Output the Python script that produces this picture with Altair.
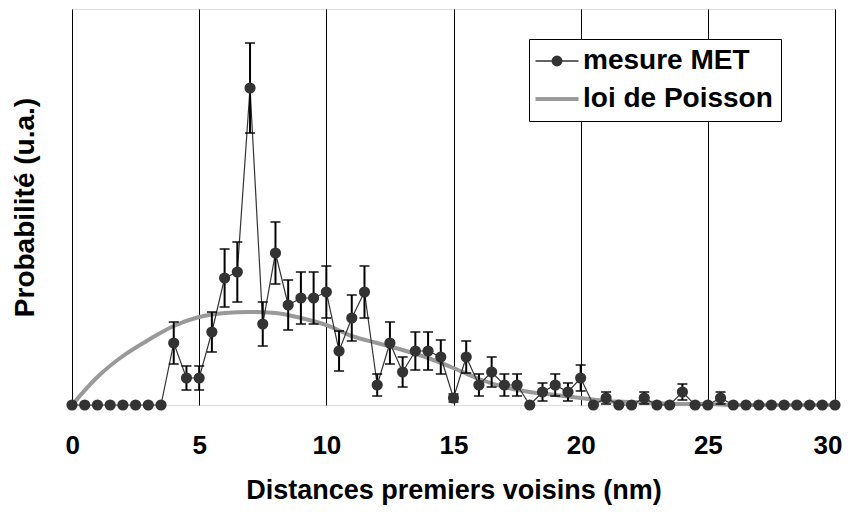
import altair as alt
import pandas as pd

# distances (nm) of the measured histogram
met_x = [0, 0.5, 1, 1.5, 2, 2.5, 3, 3.5, 4, 4.5, 5, 5.5, 6, 6.5, 7, 7.5, 8, 8.5, 9, 9.5,
         10, 10.5, 11, 11.5, 12, 12.5, 13, 13.5, 14, 14.5, 15, 15.5, 16, 16.5, 17, 17.5,
         18, 18.5, 19, 19.5, 20, 20.5, 21, 21.5, 22, 22.5, 23, 23.5, 24, 24.5, 25, 25.5,
         26, 26.5, 27, 27.5, 28, 28.5, 29, 29.5, 30]
# measured probability (arbitrary units)
met_y = [0, 0, 0, 0, 0, 0, 0, 0, 62, 27, 27, 73, 127, 133, 317, 81, 152, 100, 107, 107,
         113, 54, 87, 113, 20, 62, 33, 54, 54, 48, 7, 48, 20, 33, 20, 20,
         0, 13, 20, 13, 27, 0, 7, 0, 0, 7, 0, 0, 13, 0, 0, 7,
         0, 0, 0, 0, 0, 0, 0, 0, 0]
# error (half width)
met_err = [0, 0, 0, 0, 0, 0, 0, 0, 21, 12, 12, 20, 29, 30, 45, 22, 31, 25, 26, 26,
           26, 20, 23, 26, 11, 21, 15, 19, 19, 17, 4, 16, 11, 15, 11, 11,
           0, 9, 11, 9, 13, 0, 6, 0, 0, 6, 0, 0, 8, 0, 0, 6,
           0, 0, 0, 0, 0, 0, 0, 0, 0]

# Poisson law
poi_x = [0, 1, 2, 3, 4, 5, 6, 7, 8, 9, 10, 11, 12, 13, 14, 15, 16, 17, 18, 19, 20,
         21, 22, 23, 24, 25, 26, 27, 28, 29, 30]
poi_y = [0, 28, 49, 65, 79, 88, 92, 93, 92, 87, 80, 69, 62, 55, 47, 37, 26, 18, 13, 10, 7,
         4, 3, 2, 1, 1, 0, 0, 0, 0, 0]

series_names = ["mesure MET", "loi de Poisson"]
series_colors = ["#333333", "#999999"]
x_ticks = [0, 5, 10, 15, 20, 25, 30]

met = pd.DataFrame({"x": met_x, "y": met_y, "err": met_err, "series": series_names[0]})
met["lo"] = met["y"] - met["err"]
met["hi"] = met["y"] + met["err"]
err = met[met["err"] > 0]
poi = pd.DataFrame({"x": poi_x, "y": poi_y, "series": series_names[1]})

FONT = "Liberation Sans"

xenc = alt.X("x:Q",
             scale=alt.Scale(domain=[0, 30], nice=False, zero=True),
             axis=alt.Axis(values=x_ticks, title="Distances premiers voisins (nm)",
                           grid=True, gridColor="black", gridWidth=1, gridOpacity=1,
                           ticks=False, domain=False, labelPadding=27,
                           labelFlush=True, labelFlushOffset=7,
                           labelFont=FONT, labelFontSize=26, labelFontWeight="bold",
                           labelColor="black", titleFont=FONT, titleFontSize=27,
                           titleFontWeight="bold", titleColor="black", titlePadding=19))
yscale = alt.Scale(domain=[0, 396], nice=False)
yaxis = alt.Axis(title="Probabilité (u.a.)", labels=False, ticks=False, domain=False,
                 grid=False, titleFont=FONT, titleFontSize=28, titleFontWeight="bold",
                 titleColor="black", titlePadding=33)

shape_expr = ("datum.value === 'mesure MET' ? "
              "'M-1,0H1M-0.22,0A0.22,0.22,0,1,1,0.22,0A0.22,0.22,0,1,1,-0.22,0Z' : 'M-1,0H1'")
legend = alt.Legend(
    orient="none", legendX=457, legendY=30, title=None,
    fillColor="white", strokeColor="black", padding=8,
    labelFont=FONT, labelFontSize=28, labelFontWeight="bold", labelColor="black",
    labelLimit=400,
    symbolSize=1849, symbolOffset=6, labelOffset=12, rowPadding=10,
    symbolType=alt.ExprRef(shape_expr),
    symbolStrokeWidth=alt.ExprRef("datum.value === 'mesure MET' ? 1.5 : 4"),
    symbolFillColor=alt.ExprRef("datum.value === 'mesure MET' ? '#333333' : 'transparent'"),
    symbolStrokeColor=alt.ExprRef("datum.value === 'mesure MET' ? '#333333' : '#999999'"),
    symbolOpacity=1)
color = alt.Color("series:N", scale=alt.Scale(domain=series_names, range=series_colors),
                  legend=legend)

poisson_line = alt.Chart(poi).mark_line(strokeWidth=4, interpolate="monotone").encode(
    x=xenc, y=alt.Y("y:Q", scale=yscale, axis=yaxis), color=color)
met_line = alt.Chart(met).mark_line(strokeWidth=1.2).encode(
    x=xenc, y=alt.Y("y:Q", scale=yscale, axis=yaxis), color=color)
bars = alt.Chart(err).mark_errorbar(ticks=True, color="black", thickness=2, size=10).encode(
    x=xenc, y=alt.Y("lo:Q", scale=yscale, axis=yaxis), y2="hi:Q")
pts = alt.Chart(met).mark_point(filled=True, size=125, opacity=1).encode(
    x=xenc, y=alt.Y("y:Q", scale=yscale, axis=yaxis), color=color)

chart = alt.layer(poisson_line, met_line, bars, pts).properties(
    width=763, height=396,
    autosize=alt.AutoSizeParams(type="none"),
    padding={"left": 64, "top": 1, "right": 10, "bottom": 101},
).configure_view(stroke="black", strokeWidth=1).configure(background="white")

chart.save("out.html", embed_options={"renderer": "svg", "actions": False})
